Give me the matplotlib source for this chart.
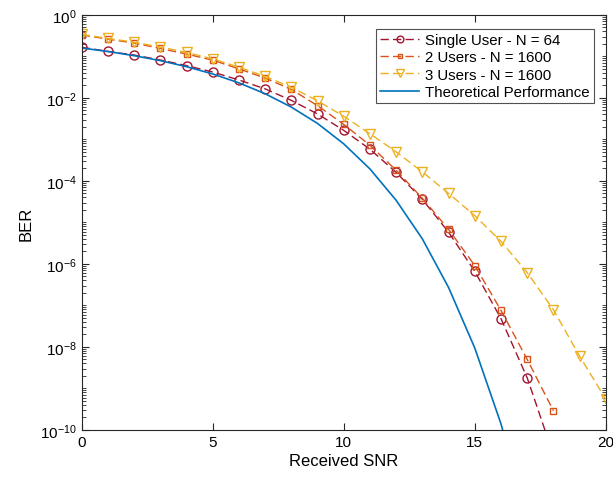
import numpy as np
import matplotlib
matplotlib.use("Agg")
import matplotlib.pyplot as plt
from matplotlib.ticker import LogLocator, NullFormatter, FixedLocator

plt.rcParams['font.family'] = ['Liberation Sans', 'DejaVu Sans']
plt.rcParams['mathtext.fontset'] = 'custom'
plt.rcParams['mathtext.rm'] = 'Liberation Sans'

snr_sim = list(range(0, 21))

ber_single = [0.166, 0.132, 0.108, 0.082, 0.060, 0.042, 0.027, 0.0165, 0.0087, 0.0041,
              1.65e-3, 5.8e-4, 1.6e-4, 3.6e-5, 5.8e-6, 6.6e-7, 4.8e-8, 1.8e-9, 2.5e-11]
ber_two = [0.33, 0.26, 0.21, 0.155, 0.114, 0.081, 0.050, 0.030, 0.016, 0.0065,
           2.3e-3, 7.2e-4, 1.8e-4, 3.8e-5, 6.8e-6, 9.1e-7, 7.6e-8, 5.0e-9, 2.9e-10]
ber_three = [0.34, 0.27, 0.22, 0.168, 0.125, 0.087, 0.055, 0.033, 0.018, 0.0085,
             3.6e-3, 1.37e-3, 5.0e-4, 1.65e-4, 5.0e-5, 1.45e-5, 3.5e-6, 6.2e-7, 7.9e-8,
             6.0e-9, 5.5e-10]
snr_theory = list(range(0, 18))
ber_theory = [0.159, 0.131, 0.104, 0.079, 0.0565, 0.0377, 0.0230, 0.0126, 0.0060, 0.00242,
              7.8e-4, 1.94e-4, 3.4e-5, 4.0e-6, 2.7e-7, 9.4e-9, 1.4e-10, 7.2e-13]

labels = ['Single User - N = 64', '2 Users - N = 1600', '3 Users - N = 1600',
          'Theoretical Performance']

fig = plt.figure(figsize=(6.13, 4.81), dpi=100)
ax = fig.add_axes([0.1333, 0.104, 0.855, 0.863])

dash = (0, (6, 3))
ax.semilogy(snr_sim[:len(ber_single)], ber_single, color='#A2142F', linestyle=dash,
            marker='o', markersize=6.5, markerfacecolor='none', linewidth=1.0,
            markeredgewidth=1.0, label=labels[0])
ax.semilogy(snr_sim[:len(ber_two)], ber_two, color='#D95319', linestyle=dash,
            marker='s', markersize=4.5, markerfacecolor='none', linewidth=1.0,
            markeredgewidth=1.0, label=labels[1])
ax.semilogy(snr_sim[:len(ber_three)], ber_three, color='#EDB120', linestyle=dash,
            marker='v', markersize=7, markerfacecolor='none', linewidth=1.0,
            markeredgewidth=1.0, label=labels[2])
ax.semilogy(snr_theory, ber_theory, color='#0072BD', linestyle='-', linewidth=1.2,
            label=labels[3])

ax.set_xlim(0, 20)
ax.set_ylim(1e-10, 1)
ax.set_xticks([0, 5, 10, 15, 20])
ax.yaxis.set_major_locator(FixedLocator([1e-10, 1e-8, 1e-6, 1e-4, 1e-2, 1e0]))
ax.set_yticklabels([r'$\mathregular{10^{-10}}$', r'$\mathregular{10^{-8}}$',
                    r'$\mathregular{10^{-6}}$', r'$\mathregular{10^{-4}}$',
                    r'$\mathregular{10^{-2}}$', r'$\mathregular{10^{0}}$'])
ax.yaxis.set_minor_locator(LogLocator(base=10, subs=np.arange(1, 10), numticks=100))
ax.yaxis.set_minor_formatter(NullFormatter())

ax.tick_params(which='both', direction='in', top=True, right=True, labelsize=11,
               color='#262626', labelcolor='#000000')
ax.tick_params(which='major', length=5, width=0.8)
ax.tick_params(which='minor', length=3, width=0.6)
for s in ax.spines.values():
    s.set_color('#262626')
    s.set_linewidth(0.8)

ax.set_xlabel('Received SNR', fontsize=12, labelpad=3)
ax.set_ylabel('BER', fontsize=12, labelpad=5)

leg = ax.legend(loc='upper right', fontsize=10.8, frameon=True, fancybox=False,
                edgecolor='#262626', handlelength=2.6, handletextpad=0.4,
                labelspacing=0.22, borderpad=0.3, markerscale=0.75,
                bbox_to_anchor=(0.992, 0.985))
leg.get_frame().set_linewidth(0.8)

fig.savefig('out.png', dpi=100)
